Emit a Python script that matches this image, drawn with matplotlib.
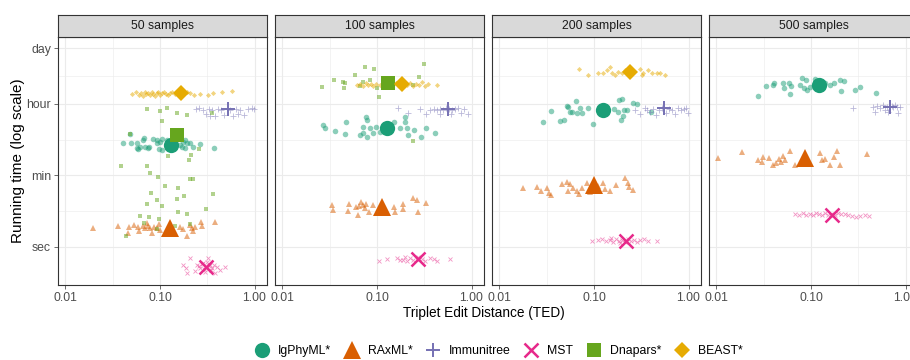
import matplotlib
matplotlib.use("Agg")
import matplotlib.pyplot as plt
from matplotlib.lines import Line2D

panels = ["50 samples", "100 samples", "200 samples", "500 samples"]
methods = ["IgPhyML*", "RAxML*", "Immunitree", "MST", "Dnapars*", "BEAST*"]
colors = ["#1B9E77", "#D95F02", "#7570B3", "#E7298A", "#66A61E", "#E6AB02"]
x_ticks = [0.01, 0.1, 1.0]
x_tick_labels = ["0.01", "0.10", "1.00"]
y_ticks = [1, 60, 3600, 86400]
y_tick_labels = ["sec", "min", "hour", "day"]

# ---------------- 50 samples ----------------
ted_50_igphyml = [0.0406, 0.0482, 0.0494, 0.0571, 0.0571, 0.0585, 0.0614, 0.0661, 0.0677, 0.0694,
                  0.0746, 0.0765, 0.0843, 0.0929, 0.0929, 0.0976, 0.100, 0.105, 0.105, 0.1186,
                  0.163, 0.171, 0.175, 0.184, 0.184, 0.193, 0.2076, 0.224, 0.265, 0.372]
time_50_igphyml = [381, 637, 381, 381, 286, 270, 303, 452, 507, 303,
                   286, 303, 479, 452, 381, 270, 403, 479, 255, 452,
                   340, 303, 403, 452, 286, 381, 381, 303, 360, 286]
ted_50_raxml = [0.0195, 0.0359, 0.047, 0.0459, 0.0531, 0.0585, 0.0599, 0.0661, 0.0694, 0.0729,
                0.0746, 0.0784, 0.0823, 0.0864, 0.0929, 0.0976, 0.100, 0.163, 0.175, 0.193,
                0.2076, 0.218, 0.224, 0.235, 0.271, 0.278, 0.381]
time_50_raxml = [2.96, 3.32, 3.14, 2.23, 3.52, 3.14, 2.50, 3.32, 2.96, 3.94,
                 3.32, 2.96, 2.23, 3.14, 2.96, 3.72, 2.64, 3.14, 2.80, 1.87,
                 3.52, 2.96, 2.50, 3.14, 4.17, 3.32, 4.17]
ted_50_immunitree = [0.240, 0.258, 0.285, 0.307, 0.330, 0.338, 0.355, 0.381, 0.410, 0.441,
                     0.475, 0.511, 0.551, 0.592, 0.636, 0.668, 0.702, 0.773, 0.852, 0.939, 0.99]
time_50_immunitree = [2660, 2810, 2510, 1995, 2660, 1780, 2510, 1780, 2660, 2510,
                      1885, 2810, 2510, 1780, 2660, 1995, 2510, 1885, 2660, 2810, 2660]
ted_50_mst = [0.175, 0.188, 0.193, 0.2076, 0.235, 0.246, 0.265, 0.285, 0.30, 0.314,
              0.322, 0.338, 0.355, 0.372, 0.381, 0.40, 0.431, 0.487, 0.259, 0.292,
              0.330, 0.346, 0.278]
time_50_mst = [0.358, 0.302, 0.227, 0.533, 0.254, 0.358, 0.302, 0.401, 0.240, 0.424,
               0.533, 0.358, 0.302, 0.358, 0.227, 0.319, 0.269, 0.319, 0.338, 0.285,
               0.338, 0.269, 0.379]
ted_50_dnapars = [0.0729, 0.100, 0.1186, 0.151, 0.193, 0.355, 0.105, 0.0482, 0.258, 0.213,
                  0.1215, 0.2026, 0.0386, 0.0729, 0.0784, 0.0952, 0.2076, 0.224, 0.113, 0.155,
                  0.0803, 0.179, 0.364, 0.0929, 0.151, 0.0729, 0.105, 0.307, 0.155, 0.193,
                  0.0614, 0.0765, 0.0976, 0.0677, 0.2076, 0.0929, 0.0437, 0.144]
time_50_dnapars = [2660, 2370, 2810, 2115, 1885, 2115, 1338, 637, 270, 192,
                   181, 144, 102, 102, 68.6, 54.6, 48.7, 48.7, 32.6, 29.1,
                   21.9, 18.4, 20.7, 14.7, 15.5, 11.7, 10.4, 8.77, 7.39, 6.59,
                   5.88, 5.55, 4.95, 3.94, 3.72, 2.80, 1.87, 3.32]
ted_50_beast = [0.0505, 0.0557, 0.0599, 0.0629, 0.0661, 0.0694, 0.0711, 0.0746, 0.0784, 0.0823,
                0.0843, 0.0885, 0.0929, 0.0952, 0.100, 0.105, 0.1102, 0.1157, 0.1215, 0.1276,
                0.134, 0.1441, 0.155, 0.1751, 0.193, 0.2076, 0.229, 0.265, 0.322, 0.364,
                0.452, 0.577]
time_50_beast = [6260, 7020, 5910, 6630, 5580, 7020, 6260, 6630, 5910, 7020,
                 6260, 5580, 6630, 7020, 5910, 6630, 7020, 6260, 5910, 6630,
                 7020, 6260, 6630, 6260, 7020, 6630, 5910, 6260, 5910, 6630,
                 7020, 7430]

# ---------------- 100 samples ----------------
ted_100_igphyml = [0.0268, 0.0282, 0.0359, 0.0459, 0.047, 0.0661, 0.0711, 0.0765, 0.0784, 0.0711,
                   0.0843, 0.0907, 0.0976, 0.1076, 0.1513, 0.1751, 0.1978, 0.1978, 0.2076, 0.213,
                   0.246, 0.292, 0.330, 0.410, 0.0784]
time_100_igphyml = [1065, 897, 756, 637, 1264, 601, 674, 1680, 1417, 950,
                    897, 674, 950, 714, 1264, 897, 1680, 1264, 897, 601,
                    800, 537, 897, 674, 537]
ted_100_raxml = [0.0334, 0.0342, 0.0494, 0.0505, 0.0599, 0.0629, 0.0677, 0.0711, 0.0746, 0.0823,
                 0.0907, 0.1513, 0.155, 0.1884, 0.1884, 0.240, 0.265, 0.271, 0.330, 0.0645, 0.0765]
time_100_raxml = [11.0, 8.28, 7.82, 11.7, 9.83, 6.22, 13.1, 11.0, 9.28, 7.39,
                  11.0, 9.83, 7.39, 11.7, 8.77, 16.4, 14.7, 7.39, 12.4, 10.4, 11.7]
ted_100_immunitree = [0.1668, 0.213, 0.285, 0.330, 0.364, 0.40, 0.431, 0.464, 0.498, 0.537,
                      0.577, 0.622, 0.668, 0.719, 0.773, 0.832, 0.917, 0.464, 0.606]
time_100_immunitree = [2810, 2115, 2660, 1995, 2510, 2660, 2510, 2660, 2510, 2810,
                       2660, 2510, 2660, 2810, 2115, 2660, 1995, 1995, 1995]
ted_100_mst = [0.105, 0.1276, 0.1628, 0.1751, 0.1884, 0.1978, 0.2076, 0.224, 0.240, 0.271,
               0.30, 0.322, 0.364, 0.40, 0.431, 0.592]
time_100_mst = [0.449, 0.504, 0.533, 0.476, 0.476, 0.565, 0.449, 0.533, 0.476, 0.565,
                0.504, 0.449, 0.533, 0.504, 0.449, 0.504]
ted_100_dnapars = [0.0262, 0.035, 0.0437, 0.0459, 0.0448, 0.0585, 0.0661, 0.0711, 0.0746, 0.0843,
                   0.0929, 0.100, 0.105, 0.1477, 0.240, 0.278, 0.314, 0.240]
time_100_dnapars = [9340, 13930, 12430, 11740, 8820, 18540, 9890, 12430, 29290, 13930,
                    26120, 8820, 5270, 11080, 10470, 16540, 34750, 427]
ted_100_beast = [0.0614, 0.0661, 0.0711, 0.0765, 0.0803, 0.0864, 0.0907, 0.0976, 0.1076, 0.1157,
                 0.1245, 0.1373, 0.1477, 0.1589, 0.1709, 0.193, 0.2076, 0.224, 0.240, 0.258,
                 0.278, 0.30, 0.322, 0.346, 0.431]
time_100_beast = [10470, 11080, 9890, 11740, 10470, 11080, 9890, 11080, 10470, 11740,
                  9890, 11080, 10470, 11740, 9890, 11080, 10470, 11740, 9890, 11080,
                  10470, 12430, 9890, 11080, 10470]

# ---------------- 200 samples ----------------
ted_200_igphyml = [0.0289, 0.035, 0.0437, 0.0482, 0.0518, 0.0531, 0.0557, 0.0585, 0.0645, 0.0661,
                   0.0711, 0.0746, 0.0864, 0.0976, 0.1628, 0.1794, 0.1838, 0.1978, 0.193, 0.2026,
                   0.2076, 0.224, 0.258, 0.285, 0.40]
time_200_igphyml = [1264, 2370, 1338, 1417, 3155, 2980, 2240, 2240, 4200, 2115,
                    2810, 2115, 2810, 1128, 2660, 2240, 4440, 4700, 1417, 1780,
                    2510, 2510, 3740, 3535, 2240]
ted_200_raxml = [0.0178, 0.0249, 0.0275, 0.0318, 0.0334, 0.035, 0.0459, 0.0518, 0.0531, 0.0599,
                 0.0661, 0.0694, 0.0843, 0.0907, 0.1245, 0.1307, 0.1477, 0.1709, 0.213, 0.229,
                 0.235, 0.258, 0.0557, 0.0746, 0.1102]
time_200_raxml = [29.1, 30.8, 24.5, 29.1, 21.9, 19.5, 36.6, 41.0, 24.5, 29.1,
                  24.5, 20.7, 38.7, 23.2, 38.7, 27.5, 24.5, 34.5, 51.5, 38.7,
                  30.8, 26.0, 36.6, 29.1, 32.6]
ted_200_immunitree = [0.271, 0.307, 0.346, 0.364, 0.391, 0.42, 0.452, 0.487, 0.523, 0.577,
                      0.622, 0.668, 0.719, 0.773, 0.832, 0.895, 0.988, 0.939]
time_200_immunitree = [2510, 1995, 2810, 2510, 2240, 2660, 1885, 2510, 2810, 2115,
                       2660, 2510, 1995, 2810, 2510, 2660, 2115, 2810]
ted_200_mst = [0.0952, 0.1102, 0.1215, 0.134, 0.1477, 0.1513, 0.1589, 0.1709, 0.1838, 0.1884,
               0.1978, 0.213, 0.229, 0.246, 0.265, 0.285, 0.307, 0.338, 0.372, 0.464]
time_200_mst = [1.41, 1.49, 1.58, 1.41, 1.49, 1.67, 1.33, 1.58, 1.41, 1.26,
                1.49, 1.33, 1.58, 1.41, 1.49, 1.33, 1.49, 1.58, 1.41, 1.41]
ted_200_beast = [0.0694, 0.0864, 0.1102, 0.1245, 0.1373, 0.1477, 0.155, 0.1668, 0.1794, 0.1978,
                 0.213, 0.307, 0.322, 0.330, 0.372, 0.41, 0.464, 0.498, 0.564]
time_200_beast = [26120, 18540, 20780, 20780, 24670, 29290, 20780, 18540, 22000, 20780,
                  24670, 26120, 18540, 20780, 24670, 20780, 20780, 20780, 18540]

# ---------------- 500 samples ----------------
ted_500_igphyml = [0.0275, 0.0334, 0.0396, 0.0406, 0.0505, 0.0518, 0.0585, 0.0599, 0.0614, 0.0765,
                   0.0803, 0.0843, 0.0885, 0.0907, 0.0976, 0.1102, 0.1406, 0.1589, 0.1751, 0.2026,
                   0.2076, 0.224, 0.292, 0.330, 0.487]
time_500_igphyml = [5580, 9890, 10470, 11740, 11740, 8820, 11740, 6260, 9890, 10470,
                    15620, 8820, 13930, 7870, 9340, 14750, 11740, 10470, 11740, 13930,
                    7430, 13160, 7870, 9340, 6630]
ted_500_raxml = [0.0104, 0.0186, 0.0275, 0.0303, 0.031, 0.0359, 0.0396, 0.0426, 0.0459, 0.0482,
                 0.0505, 0.0531, 0.0599, 0.0677, 0.1245, 0.1307, 0.1406, 0.1589, 0.1751, 0.1884,
                 0.2026, 0.391]
time_500_raxml = [162, 228, 144, 129, 171, 162, 108, 121, 153, 129,
                  181, 144, 241, 108, 215, 144, 153, 108, 171, 241,
                  108, 203]
ted_500_immunitree = [0.278, 0.452, 0.475, 0.498, 0.537, 0.577, 0.606, 0.636, 0.652, 0.719,
                      0.736, 0.773, 0.812, 0.832, 0.873]
time_500_immunitree = [2810, 2980, 2240, 3155, 2810, 3340, 2510, 2980, 2240, 3155,
                       2980, 3340, 2980, 2115, 2980]
ted_500_mst = [0.0677, 0.0746, 0.0823, 0.0885, 0.0976, 0.105, 0.113, 0.1215, 0.1307, 0.1406,
               0.1513, 0.1628, 0.1794, 0.193, 0.2076, 0.229, 0.246, 0.271, 0.30, 0.330,
               0.372, 0.41]
time_500_mst = [6.59, 6.22, 6.98, 6.22, 6.59, 6.22, 6.98, 6.59, 6.22, 6.98,
                6.22, 6.59, 6.22, 6.98, 6.59, 6.59, 6.22, 5.88, 5.55, 5.88,
                6.22, 5.88]

# ---------------- means (large markers) ----------------
mean_ted_50 = [0.131, 0.128, 0.523, 0.307, 0.151, 0.167]
mean_time_50 = [340, 3.0, 2660, 0.319, 601, 6630]
mean_ted_100 = [0.128, 0.113, 0.564, 0.271, 0.131, 0.184]
mean_time_100 = [897, 9.83, 2660, 0.504, 11740, 11080]
mean_ted_200 = [0.125, 0.100, 0.551, 0.218, None, 0.240]
mean_time_200 = [2510, 34.5, 2810, 1.41, None, 22000]
mean_ted_500 = [0.122, 0.0864, 0.686, 0.167, None, None]
mean_time_500 = [10470, 162, 2980, 6.22, None, None]

points = [
    [(ted_50_igphyml, time_50_igphyml), (ted_50_raxml, time_50_raxml),
     (ted_50_immunitree, time_50_immunitree), (ted_50_mst, time_50_mst),
     (ted_50_dnapars, time_50_dnapars), (ted_50_beast, time_50_beast)],
    [(ted_100_igphyml, time_100_igphyml), (ted_100_raxml, time_100_raxml),
     (ted_100_immunitree, time_100_immunitree), (ted_100_mst, time_100_mst),
     (ted_100_dnapars, time_100_dnapars), (ted_100_beast, time_100_beast)],
    [(ted_200_igphyml, time_200_igphyml), (ted_200_raxml, time_200_raxml),
     (ted_200_immunitree, time_200_immunitree), (ted_200_mst, time_200_mst),
     None, (ted_200_beast, time_200_beast)],
    [(ted_500_igphyml, time_500_igphyml), (ted_500_raxml, time_500_raxml),
     (ted_500_immunitree, time_500_immunitree), (ted_500_mst, time_500_mst),
     None, None],
]
means = [(mean_ted_50, mean_time_50), (mean_ted_100, mean_time_100),
         (mean_ted_200, mean_time_200), (mean_ted_500, mean_time_500)]

plt.rcParams['font.family'] = ['Liberation Sans', 'DejaVu Sans']

small_style = [
    dict(marker='o', ms=4.0, mew=0),
    dict(marker='^', ms=4.4, mew=0),
    dict(marker='+', ms=4.0, mew=0.6),
    dict(marker='x', ms=3.4, mew=0.6),
    dict(marker='s', ms=3.3, mew=0),
    dict(marker='D', ms=2.6, mew=0),
]
big_style = [
    dict(marker='o', ms=11, mew=0),
    dict(marker='^', ms=13, mew=0),
    dict(marker='+', ms=10, mew=1.4),
    dict(marker='x', ms=10, mew=1.8),
    dict(marker='s', ms=10.5, mew=0),
    dict(marker='D', ms=7.8, mew=0),
]

W, H = 910, 360
fig = plt.figure(figsize=(W / 100, H / 100), dpi=100)

grid_c = "#EBEBEB"
border_c = "#333333"
txt_c = "#4D4D4D"

for i, title in enumerate(panels):
    L = 58 + 217 * i
    ax = fig.add_axes([L / W, 75 / H, 209 / W, 248 / H])
    ax.set_xscale('log')
    ax.set_yscale('log')
    ax.set_xlim(0.00833, 1.356)
    ax.set_ylim(0.114, 162500)
    ax.set_xticks(x_ticks)
    ax.set_xticklabels(x_tick_labels)
    ax.set_xticks([0.0316, 0.316], minor=True)
    ax.set_yticks(y_ticks)
    ax.set_yticks([7.75, 464.8, 17636], minor=True)
    ax.xaxis.set_minor_formatter(plt.NullFormatter())
    ax.yaxis.set_minor_formatter(plt.NullFormatter())
    ax.grid(True, which='major', color=grid_c, lw=0.8)
    ax.grid(True, which='minor', color=grid_c, lw=0.4)
    ax.set_axisbelow(True)
    ax.tick_params(which='minor', length=0)
    ax.tick_params(axis='x', which='major', length=2.75, width=0.5, color=border_c,
                   labelsize=8.8, labelcolor=txt_c, pad=2.2)
    if i == 0:
        ax.set_yticklabels(y_tick_labels)
        ax.tick_params(axis='y', which='major', length=2.75, width=0.5, color=border_c,
                       labelsize=8.8, labelcolor=txt_c, pad=2.2)
    else:
        ax.tick_params(axis='y', which='major', length=0, labelleft=False)
    for sp in ax.spines.values():
        sp.set_color(border_c)
        sp.set_linewidth(0.8)

    for k, grp in enumerate(points[i]):
        if grp is None:
            continue
        tx, ty = grp
        st = small_style[k]
        ax.plot(tx, ty, linestyle='none', marker=st['marker'], ms=st['ms'],
                mew=st['mew'], color=colors[k], alpha=0.5, zorder=2)
    mt, my = means[i]
    for k in range(len(methods)):
        if mt[k] is None:
            continue
        st = big_style[k]
        ax.plot([mt[k]], [my[k]], linestyle='none', marker=st['marker'], ms=st['ms'],
                mew=st['mew'], color=colors[k], zorder=3)

    sax = fig.add_axes([L / W, 323 / H, 209 / W, 22 / H])
    sax.set_facecolor("#D9D9D9")
    sax.set_xticks([])
    sax.set_yticks([])
    for sp in sax.spines.values():
        sp.set_color(border_c)
        sp.set_linewidth(0.8)
    sax.text(0.5, 0.5, title, ha='center', va='center', fontsize=8.8,
             color="#1A1A1A", transform=sax.transAxes)

fig.text(484 / W, 47 / H, "Triplet Edit Distance (TED)", ha='center', va='center',
         fontsize=9.8, color='black')
fig.text(18 / W, 199 / H, "Running time (log scale)", ha='center', va='center',
         fontsize=11, rotation=90, color='black')

handles = []
for k, m in enumerate(methods):
    st = big_style[k]
    handles.append(Line2D([], [], linestyle='none', marker=st['marker'], ms=st['ms'],
                          mew=st['mew'], color=colors[k], label=m))
fig.legend(handles=handles, loc='center', bbox_to_anchor=(498 / W, 9 / H), ncol=6,
           frameon=False, fontsize=8.8, handletextpad=0.6, columnspacing=1.0,
           handlelength=1.4)

fig.savefig("out.png", dpi=100)
